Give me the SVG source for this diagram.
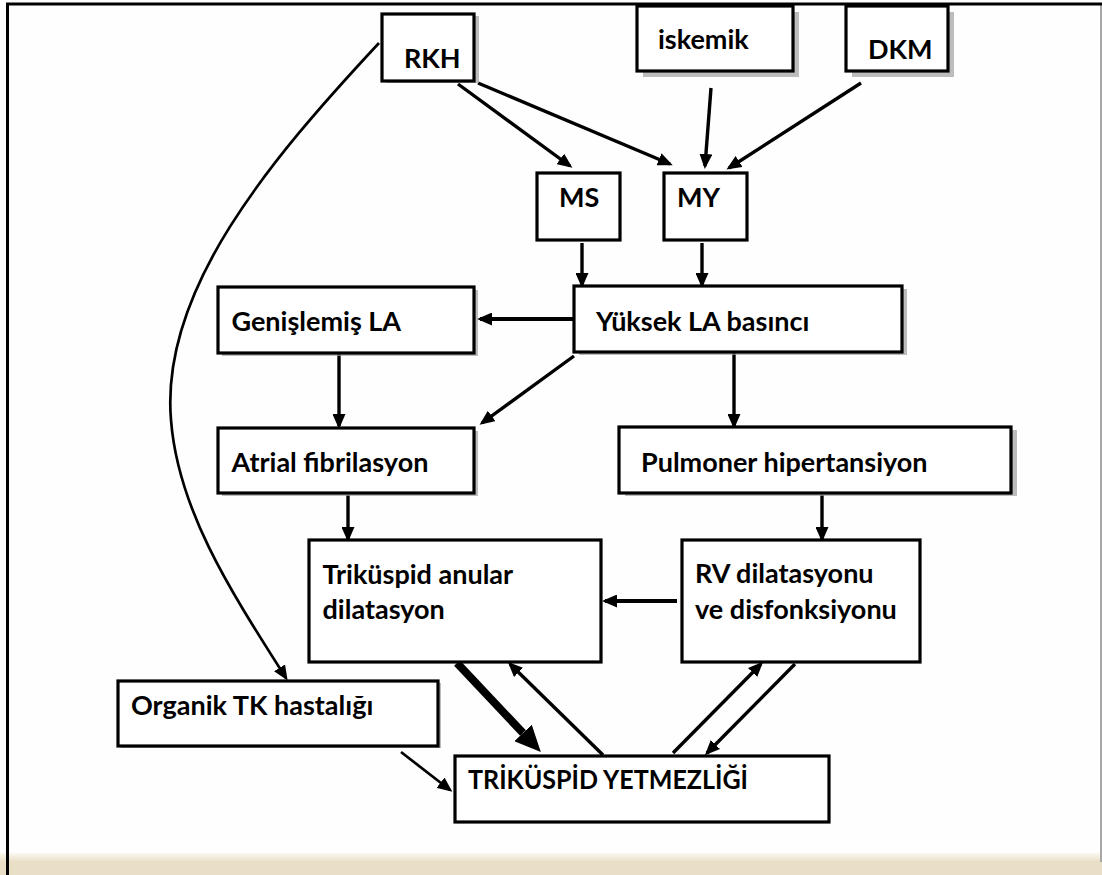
<svg xmlns="http://www.w3.org/2000/svg" width="1102" height="875" viewBox="0 0 1102 875">
<style>
.box{fill:#fff;stroke:#000;stroke-width:3.2}
.sh{fill:#a0a0a0;opacity:0.7}
.t{font-family:Lato,"Liberation Sans",sans-serif;font-weight:bold;font-size:27px;fill:#000}
.c{fill:none;stroke:#000;stroke-width:3.4;marker-end:url(#ah)}
.c2{fill:none;stroke:#000;stroke-width:2.7;marker-end:url(#ah)}
</style>
<defs>
<marker id="ah" markerUnits="userSpaceOnUse" markerWidth="15" markerHeight="13" refX="12" refY="6.5" orient="auto" viewBox="0 0 15 13">
<path d="M0,0 L15,6.5 L0,13 z" fill="#000"/>
</marker>
<marker id="ahBig" markerUnits="userSpaceOnUse" markerWidth="26" markerHeight="24" refX="0" refY="12" orient="auto" viewBox="0 0 26 24">
<path d="M0,0 L26,12 L0,24 z" fill="#000"/>
</marker>
<linearGradient id="bg" x1="0" y1="0" x2="0" y2="1">
<stop offset="0" stop-color="#fbf8f0"/>
<stop offset="1" stop-color="#e9dfc6"/>
</linearGradient>
</defs>
<rect x="0" y="0" width="1102" height="875" fill="#fefefe"/>
<g id="frame">
<rect x="0" y="853" width="1102" height="9" fill="url(#bg)"/>
<rect x="0" y="861" width="1102" height="14" fill="#e9dfc6"/>
<line x1="1101" y1="5" x2="1101" y2="862" stroke="#a8a8a8" stroke-width="2"/>
<line x1="6" y1="4" x2="1102" y2="4" stroke="#000" stroke-width="3"/>
<line x1="7.5" y1="3" x2="7.5" y2="875" stroke="#000" stroke-width="3"/>
</g>
<g id="connectors">
<line class="c" x1="458" y1="84" x2="570" y2="166"/>
<line class="c" x1="478" y1="83" x2="670" y2="164"/>
<line class="c" x1="711" y1="88" x2="705" y2="166"/>
<line class="c" x1="861" y1="83" x2="729" y2="168"/>
<line class="c" x1="582" y1="243" x2="582" y2="285"/>
<line class="c" x1="702" y1="243" x2="702" y2="285"/>
<line class="c" x1="573" y1="319" x2="480" y2="319" style="stroke-width:3.8"/>
<line class="c" x1="574" y1="356" x2="482" y2="423"/>
<line class="c" x1="339" y1="354" x2="339" y2="426"/>
<line class="c" x1="734" y1="353" x2="734" y2="426"/>
<line class="c" x1="348" y1="495" x2="348" y2="539"/>
<line class="c" x1="822" y1="495" x2="822" y2="539"/>
<line class="c" x1="677" y1="601" x2="605" y2="601" style="stroke-width:3.8"/>
<path class="c2" d="M379,43 C270,160 160,290 171,420 C178,510 230,590 286,678"/>
<line class="c2" x1="401" y1="752" x2="450" y2="790"/>
<line x1="457" y1="663" x2="523" y2="733" stroke="#000" stroke-width="8" marker-end="url(#ahBig)"/>
<line class="c" x1="603" y1="755" x2="510" y2="664"/>
<line class="c" x1="673" y1="753" x2="761" y2="664"/>
<line class="c" x1="795" y1="664" x2="707" y2="753"/>
</g>
<g id="n-rkh">
<rect class="sh" x="387" y="16" width="92" height="67"/>
<rect class="box" x="382" y="14" width="92" height="67"/>
<text class="t" x="404" y="68">RKH</text>
</g>
<g id="n-iskemik">
<rect class="sh" x="643" y="12" width="156" height="65"/>
<rect class="box" x="637" y="6" width="156" height="65"/>
<text class="t" x="658" y="49">iskemik</text>
</g>
<g id="n-dkm">
<rect class="sh" x="852" y="12" width="102" height="65"/>
<rect class="box" x="846" y="6" width="102" height="65"/>
<text class="t" x="868" y="59">DKM</text>
</g>
<g id="n-ms">
<rect class="box" x="537" y="173" width="83" height="67"/>
<text class="t" x="559" y="207">MS</text>
</g>
<g id="n-my">
<rect class="box" x="664" y="173" width="83" height="67"/>
<text class="t" x="677" y="207">MY</text>
</g>
<g id="n-yuksek">
<rect class="sh" x="579" y="289" width="328" height="66"/>
<rect class="box" x="574" y="286" width="328" height="66"/>
<text class="t" x="596" y="331">Yüksek LA basıncı</text>
</g>
<g id="n-genislemis">
<rect class="sh" x="222" y="290" width="256" height="66"/>
<rect class="box" x="218" y="287" width="256" height="66"/>
<text class="t" x="231.5" y="331">Genişlemiş LA</text>
</g>
<g id="n-atrial">
<rect class="sh" x="222" y="431" width="256" height="65"/>
<rect class="box" x="218" y="428" width="256" height="65"/>
<text class="t" x="231.5" y="472">Atrial fibrilasyon</text>
</g>
<g id="n-pulmoner">
<rect class="sh" x="625" y="430" width="392" height="66"/>
<rect class="box" x="619" y="427" width="392" height="66"/>
<text class="t" x="641" y="472">Pulmoner hipertansiyon</text>
</g>
<g id="n-anular">
<rect class="box" x="309" y="540" width="292" height="122"/>
<text class="t" x="322.5" y="584">Triküspid anular</text>
<text class="t" x="322.5" y="619">dilatasyon</text>
</g>
<g id="n-rv">
<rect class="box" x="682" y="540" width="238" height="122"/>
<text class="t" x="695" y="583">RV dilatasyonu</text>
<text class="t" x="695" y="619">ve disfonksiyonu</text>
</g>
<g id="n-organik">
<rect class="sh" x="121" y="683" width="320" height="65"/>
<rect class="box" x="118" y="681" width="320" height="65"/>
<text class="t" x="131" y="715">Organik TK hastalığı</text>
</g>
<g id="n-ty">
<rect class="box" x="455" y="756" width="374" height="66"/>
<text class="t" x="468" y="789" textLength="280" lengthAdjust="spacingAndGlyphs">TRİKÜSPİD YETMEZLİĞİ</text>
</g>
</svg>
